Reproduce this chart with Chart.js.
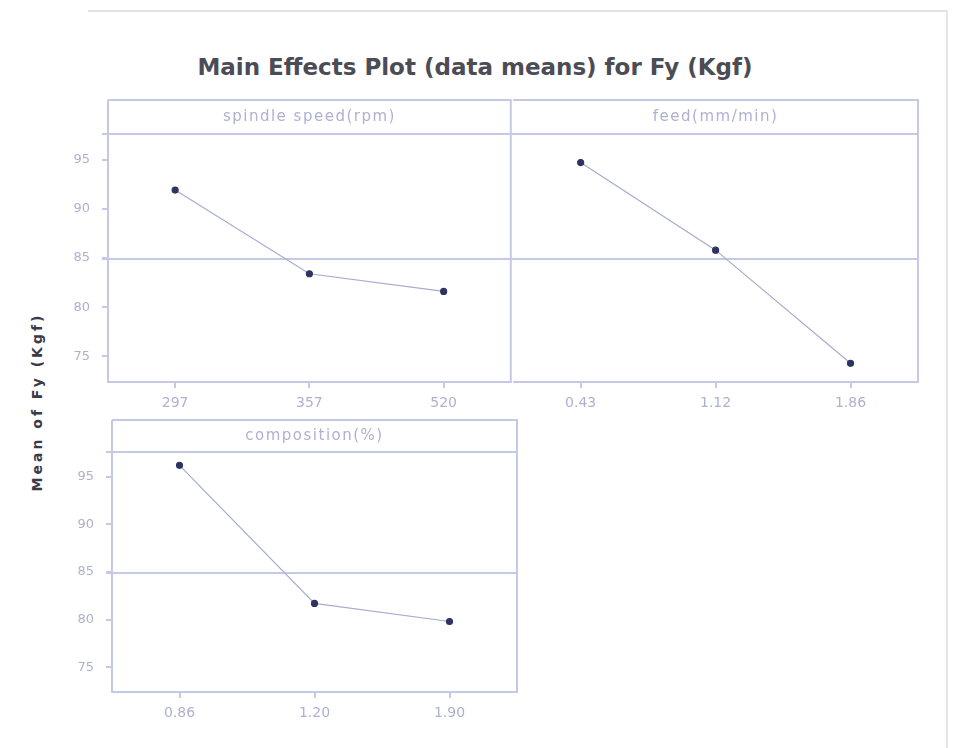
<!DOCTYPE html>
<html lang="en">
<head>
  <meta charset="UTF-8" />
  <title>Main Effects Plot</title>
  <script src="https://cdn.jsdelivr.net/npm/chart.js"></script>
  <style>
    body { margin: 0; background: #fff; }
    .page {
      position: relative;
      width: 962px;
      height: 748px;
      overflow: hidden;
      font-family: 'DejaVu Sans', sans-serif;
    }
    .frame-top {
      position: absolute; left: 88px; top: 10px; width: 860px; height: 0;
      border-top: 2px solid #e2e2e6;
    }
    .frame-right {
      position: absolute; left: 946px; top: 10px; width: 0; height: 740px;
      border-left: 2px solid #e6e6ea;
    }
    .title {
      position: absolute; left: 0; width: 950px; top: 54px;
      text-align: center; font-weight: bold; font-size: 23px; color: #4c4c55;
    }
    .ytitle {
      position: absolute; left: 37px; top: 402px;
      transform: translate(-50%, -50%) rotate(-90deg);
      white-space: nowrap; font-weight: bold; font-size: 14px; letter-spacing: 3px; color: #3a3a48;
    }
    canvas { position: absolute; }
  </style>
</head>
<body>
<div class="page">
  <div class="frame-top"></div>
  <div class="frame-right"></div>
  <div class="title">Main Effects Plot (data means) for Fy (Kgf)</div>
  <div class="ytitle">Mean of Fy (Kgf)</div>
  <canvas id="spindle" width="486" height="330" style="left:30px; top:96px;"></canvas>
  <canvas id="feed" width="420" height="330" style="left:508px; top:96px;"></canvas>
  <canvas id="comp" width="500" height="320" style="left:30px; top:418px;"></canvas>
</div>

<script>
  // factor levels and data means of Fy (Kgf)
  const spindleLabels = ['297', '357', '520'];
  const spindleMeans = [91.9, 83.4, 81.6];
  const feedLabels = ['0.43', '1.12', '1.86'];
  const feedMeans = [94.7, 85.8, 74.3];
  const compLabels = ['0.86', '1.20', '1.90'];
  const compMeans = [96.2, 81.7, 79.8];
  const yTicks = [75, 80, 85, 90, 95];
  const grandMean = 84.9;

  const frameColor = '#c6c9e6';
  const textColor = '#aeb1d0';

  // panel box, factor header strip and the grand mean reference line
  const panelFrame = {
    id: 'panelFrame',
    beforeDatasetsDraw(chart, args, o) {
      const ctx = chart.ctx;
      const a = chart.chartArea;
      const top = a.top - o.strip;
      const yMean = chart.scales.y.getPixelForValue(grandMean);
      ctx.save();
      ctx.strokeStyle = frameColor;
      ctx.lineWidth = 2;
      ctx.beginPath();
      ctx.moveTo(a.left, top);
      ctx.lineTo(a.right, top);
      ctx.lineTo(a.right, a.bottom);
      ctx.lineTo(a.left, a.bottom);
      if (!o.sharedLeft) ctx.lineTo(a.left, top);
      ctx.moveTo(a.left - 6, a.top);
      ctx.lineTo(a.right, a.top);
      ctx.moveTo(a.left - 6, yMean);
      ctx.lineTo(a.right, yMean);
      ctx.stroke();
      ctx.fillStyle = textColor;
      ctx.font = '15px "DejaVu Sans"';
      ctx.letterSpacing = '1.5px';
      ctx.textAlign = 'center';
      ctx.textBaseline = 'middle';
      ctx.fillText(o.name, (a.left + a.right) / 2, a.top - o.strip / 2);
      ctx.restore();
    }
  };

  function makePanel(id, labels, values, name, cfg) {
    new Chart(document.getElementById(id), {
      type: 'line',
      data: {
        labels: labels,
        datasets: [{
          data: values,
          borderColor: '#a7abd0',
          borderWidth: 1.2,
          pointRadius: 3,
          pointBackgroundColor: '#2f3362',
          pointBorderColor: '#2f3362',
          tension: 0
        }]
      },
      options: {
        responsive: false,
        animation: false,
        devicePixelRatio: 1,
        layout: { padding: cfg.padding },
        plugins: {
          legend: { display: false },
          tooltip: { enabled: false },
          panelFrame: { name: name, strip: cfg.strip, sharedLeft: cfg.sharedLeft }
        },
        scales: {
          x: {
            type: 'category',
            offset: true,
            grid: { display: true, drawOnChartArea: false, tickLength: 6, color: frameColor, lineWidth: 2 },
            border: { display: false },
            ticks: { color: textColor, font: { size: 14, family: 'DejaVu Sans' }, padding: 7 },
            afterFit(s) { s.height = cfg.xHeight; }
          },
          y: {
            display: cfg.showY,
            min: 72.4,
            max: 97.6,
            grid: { display: true, drawOnChartArea: false, tickLength: 6, color: frameColor, lineWidth: 2 },
            border: { display: false },
            ticks: { color: textColor, font: { size: 13, family: 'DejaVu Sans' }, padding: 12 },
            afterBuildTicks(s) { s.ticks = yTicks.map(v => ({ value: v })); },
            afterFit(s) { s.width = cfg.yWidth; }
          }
        }
      },
      plugins: [panelFrame]
    });
  }

  makePanel('spindle', spindleLabels, spindleMeans, 'spindle speed(rpm)',
    { showY: true, yWidth: 78, xHeight: 44, strip: 34, padding: { top: 38, right: 4, left: 0, bottom: 0 } });
  makePanel('feed', feedLabels, feedMeans, 'feed(mm/min)',
    { showY: false, sharedLeft: true, yWidth: 0, xHeight: 44, strip: 34, padding: { top: 38, right: 10, left: 4, bottom: 0 } });
  makePanel('comp', compLabels, compMeans, 'composition(%)',
    { showY: true, yWidth: 82, xHeight: 46, strip: 32, padding: { top: 34, right: 13, left: 0, bottom: 0 } });
</script>
</body>
</html>
